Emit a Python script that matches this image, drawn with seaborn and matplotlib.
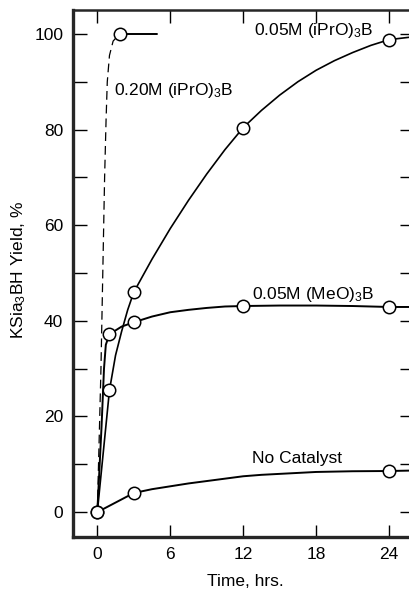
import matplotlib
matplotlib.use("Agg")
import matplotlib.pyplot as plt
import pandas as pd
import seaborn as sns
from matplotlib.ticker import MultipleLocator

# measured points (time in hrs, yield in %)
t_ipr20 = [0, 1.84]
y_ipr20 = [0, 100]
t_ipr05 = [1, 3, 12, 24]
y_ipr05 = [25.5, 46, 80.4, 98.8]
t_meo05 = [1, 3, 12, 24]
y_meo05 = [37.2, 39.7, 43.1, 42.9]
t_nocat = [0, 3, 24]
y_nocat = [0, 4.0, 8.6]

# hand-drawn curves
ct_ipr20 = [0, 0.3, 0.45, 0.6, 0.72, 0.82, 1.0, 1.3, 1.84]
cy_ipr20 = [0, 30, 50, 70, 82, 90, 95.5, 98.5, 100]
ct_ipr20_flat = [1.84, 4.9]
cy_ipr20_flat = [100, 100]
ct_ipr05 = [0, 1, 1.5, 2, 2.5, 3, 4.5, 6, 7.5, 9, 10.5, 12, 13.5,
            15, 16.5, 18, 19.5, 21, 22.5, 24, 26]
cy_ipr05 = [0, 25.5, 32.8, 37.8, 42.3, 46, 52.9, 59.3, 65.2, 70.7, 75.8, 80.4, 84.0,
            87.2, 90.0, 92.4, 94.4, 96.1, 97.6, 98.8, 99.4]
ct_meo05 = [0, 0.35, 0.55, 0.7, 1.0, 2, 3, 4.5, 6, 7.5, 9, 10.5, 12, 15, 18, 21, 24, 26]
cy_meo05 = [0, 18, 30, 35, 37.2, 38.8, 39.7, 40.9, 41.8, 42.3, 42.7, 43.0, 43.1,
            43.2, 43.2, 43.1, 42.9, 42.9]
ct_nocat = [0, 3, 4.5, 6, 7.5, 9, 10.5, 12, 13.5, 15, 16.5, 18, 21, 24, 26]
cy_nocat = [0, 4.0, 4.8, 5.4, 6.0, 6.5, 7.0, 7.5, 7.8, 8.0, 8.2, 8.4, 8.55, 8.6, 8.7]

labels = ["0.05M (iPrO)$_3$B", "0.20M (iPrO)$_3$B", "0.05M (MeO)$_3$B", "No Catalyst"]
label_pos = [(12.85, 99.8), (1.35, 87.2), (12.7, 44.6), (12.7, 10.2)]

sns.set_style("ticks")
plt.rcParams["font.family"] = ["Liberation Sans", "DejaVu Sans"]
plt.rcParams["mathtext.default"] = "regular"
plt.rcParams["text.color"] = "black"
plt.rcParams["xtick.color"] = "black"
plt.rcParams["ytick.color"] = "black"

fs = 12.5

fig = plt.figure(figsize=(4.09, 5.91), dpi=100)
ax = fig.add_axes([73 / 409, 54 / 591, 341 / 409, 527 / 591])

curves = [
    (ct_ipr20, cy_ipr20, (0, (7, 4)), 0.9),
    (ct_ipr20_flat, cy_ipr20_flat, "-", 1.4),
    (ct_ipr05, cy_ipr05, "-", 1.2),
    (ct_meo05, cy_meo05, "-", 1.4),
    (ct_nocat, cy_nocat, "-", 1.4),
]
for cx, cy, ls, lw in curves:
    df = pd.DataFrame({"t": cx, "y": cy})
    sns.lineplot(data=df, x="t", y="y", sort=False, estimator=None,
                 color="black", linestyle=ls, linewidth=lw, ax=ax)

pts = pd.DataFrame({
    "t": t_ipr20 + t_ipr05 + t_meo05 + t_nocat,
    "y": y_ipr20 + y_ipr05 + y_meo05 + y_nocat,
})
sns.scatterplot(data=pts, x="t", y="y", s=80, facecolor="white",
                edgecolor="black", linewidth=1.1, zorder=5, ax=ax)

for txt, (x, y) in zip(labels, label_pos):
    ax.text(x, y, txt, fontsize=fs, ha="left", va="baseline")

ax.set_xlim(-2, 26.05)
ax.set_ylim(-5.2, 105)
ax.set_xticks([0, 6, 12, 18, 24])
ax.set_yticks([0, 20, 40, 60, 80, 100])
ax.yaxis.set_minor_locator(MultipleLocator(10))
ax.tick_params(axis="both", which="both", direction="in", labelsize=fs,
               width=1.0, color="black", pad=7)
ax.tick_params(axis="y", which="both", length=10, right=True)
ax.tick_params(axis="x", which="both", length=9, top=True)
ax.set_xlabel("")
ax.set_ylabel("")
for side in ["left", "bottom"]:
    ax.spines[side].set_linewidth(2.4)
ax.spines["top"].set_linewidth(1.8)
ax.spines["right"].set_visible(False)

fig.text(245 / 409, 1 - 582 / 591, "Time, hrs.", ha="center", va="center", fontsize=fs)
fig.text(19 / 409, 1 - 270 / 591, "KSia$_3$BH Yield, %", ha="center", va="center",
         rotation=90, fontsize=fs)

fig.savefig("out.png", dpi=100)
